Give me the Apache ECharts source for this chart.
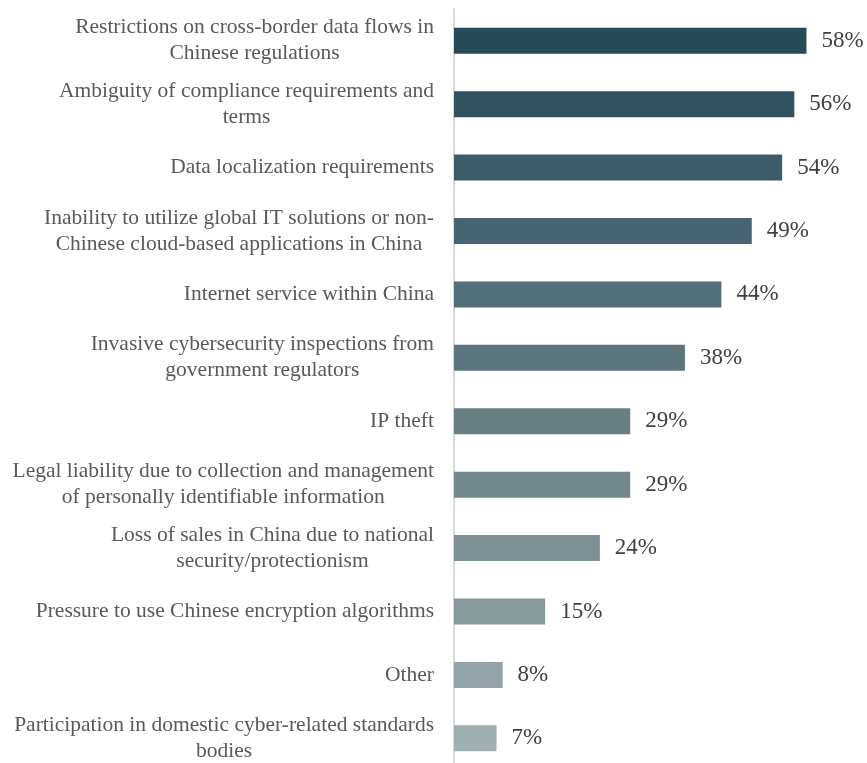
<!DOCTYPE html>
<html>
<head>
<meta charset="utf-8">
<title>Cybersecurity concerns in China</title>
<script src="https://cdn.jsdelivr.net/npm/echarts@6/dist/echarts.min.js"></script>
<style>
  html, body { margin: 0; padding: 0; background: #ffffff; overflow: hidden; }
  /* slightly taller than the view so the last band runs past the bottom edge */
  #chart { width: 867px; height: 772px; }
</style>
</head>
<body>
<div id="chart"></div>
<script>
// Concern categories (manually wrapped into lines), top to bottom
const categories = [
  ['Restrictions on cross-border data flows in', 'Chinese regulations'],
  ['Ambiguity of compliance requirements and', 'terms'],
  ['Data localization requirements'],
  ['Inability to utilize global IT solutions or non-', 'Chinese cloud-based applications in China'],
  ['Internet service within China'],
  ['Invasive cybersecurity inspections from', 'government regulators'],
  ['IP theft'],
  ['Legal liability due to collection and management', 'of personally identifiable information'],
  ['Loss of sales in China due to national', 'security/protectionism'],
  ['Pressure to use Chinese encryption algorithms'],
  ['Other'],
  ['Participation in domestic cyber-related standards', 'bodies']
];

// Share of respondents (%)
const values = [58, 56, 54, 49, 44, 38, 29, 29, 24, 15, 8, 7];

// Bar shades, dark teal fading to light grey-blue
const barColors = [
  '#264a56', '#30535e', '#3c5d67', '#476570', '#526e76', '#5d767d',
  '#687f84', '#72888c', '#7d9194', '#88999c', '#93a3a7', '#9eaeb1'
];

const labelKeys = categories.map(lines => lines.join('\n'));
const serif = '"Liberation Serif", "DejaVu Serif", serif';

const chart = echarts.init(document.getElementById('chart'), null, { renderer: 'canvas' });

chart.setOption({
  animation: false,
  backgroundColor: '#ffffff',
  textStyle: { fontFamily: serif },
  grid: { left: 454, top: 9, height: 761, right: 18, containLabel: false },
  xAxis: {
    type: 'value',
    min: 0,
    max: 65,
    show: false
  },
  yAxis: {
    type: 'category',
    inverse: true,
    data: labelKeys,
    axisLine: { show: true, lineStyle: { color: '#d9d9d9', width: 2 } },
    axisTick: { show: false },
    splitLine: { show: false },
    axisLabel: {
      margin: 20,
      color: '#595959',
      fontSize: 21.5,
      lineHeight: 26,
      fontFamily: serif,
      formatter: function (v) {
        return v.split('\n').map(s => '{c|' + s + '}').join('\n');
      },
      rich: {
        c: {
          align: 'center',
          color: '#595959',
          fontSize: 21.5,
          lineHeight: 26,
          fontFamily: serif
        }
      }
    }
  },
  series: [{
    type: 'bar',
    barWidth: 26,
    data: values.map((v, i) => ({ value: v, itemStyle: { color: barColors[i] } })),
    label: {
      show: true,
      position: 'right',
      distance: 15,
      formatter: '{c}%',
      color: '#404040',
      fontSize: 23,
      fontFamily: serif
    }
  }]
});
</script>
</body>
</html>
